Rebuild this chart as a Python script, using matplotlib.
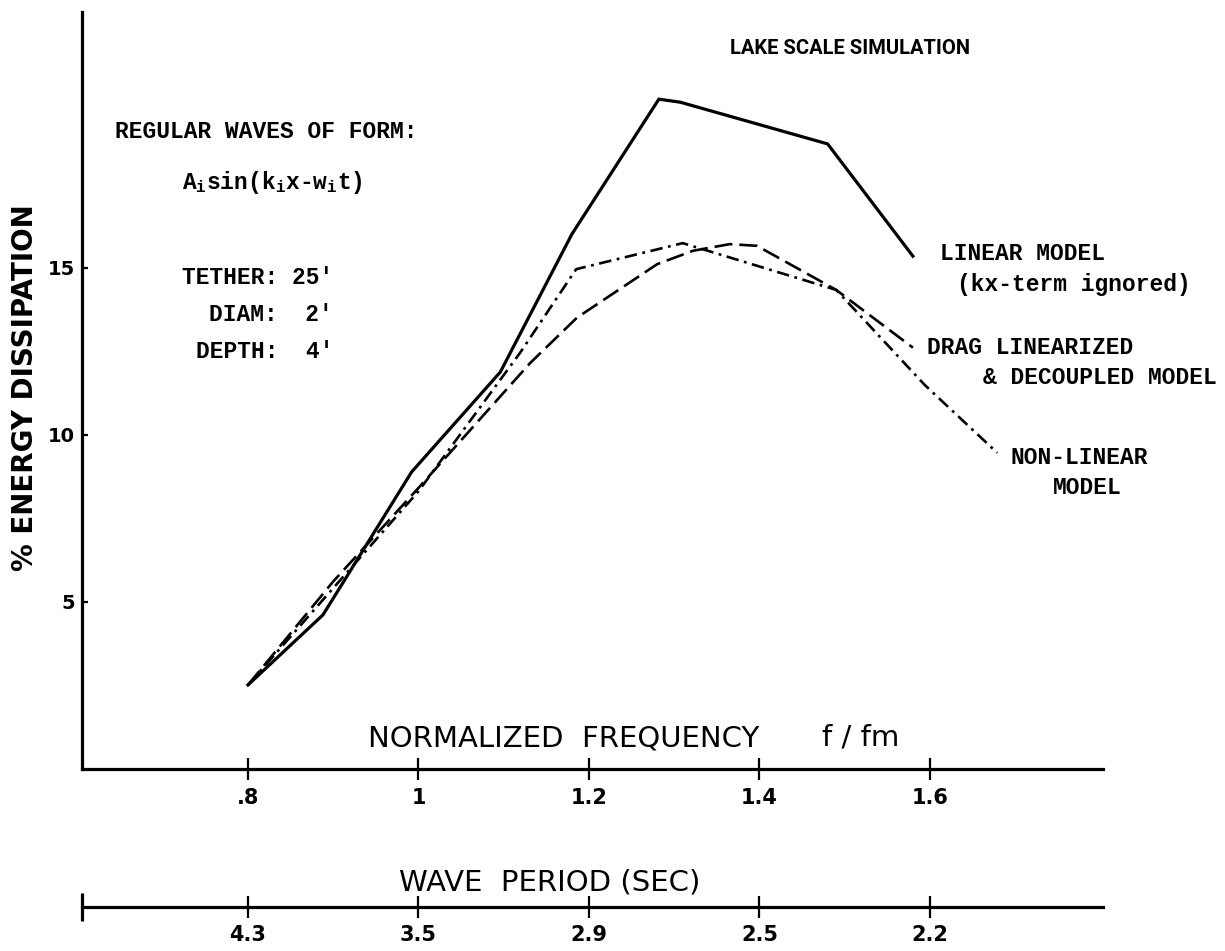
import matplotlib
matplotlib.use('Agg')
import matplotlib.pyplot as plt

plt.rcParams['lines.scale_dashes'] = False
plt.rcParams['mathtext.fontset'] = 'custom'
plt.rcParams['mathtext.rm'] = 'Liberation Mono:bold'
plt.rcParams['mathtext.it'] = 'Liberation Mono:bold'

# normalized frequency axis and the matching wave periods
freq_ticks = [0.8, 1.0, 1.2, 1.4, 1.6]
freq_labels = ['.8', '1', '1.2', '1.4', '1.6']
period_labels = ['4.3', '3.5', '2.9', '2.5', '2.2']
energy_ticks = [5, 10, 15]

# % energy dissipation for the three models
linear_f = [0.80, 0.888, 0.992, 1.096, 1.18, 1.282, 1.307, 1.48, 1.58]
linear_e = [2.5, 4.6, 8.88, 11.87, 16.0, 20.04, 19.95, 18.7, 15.34]

drag_f = [0.80, 0.90, 1.00, 1.131, 1.186, 1.28, 1.322, 1.365, 1.397, 1.49, 1.58]
drag_e = [2.5, 5.6, 8.4, 12.14, 13.5, 15.1, 15.5, 15.7, 15.65, 14.33, 12.6]

nonlin_f = [0.80, 0.90, 1.00, 1.119, 1.185, 1.31, 1.49, 1.594, 1.679]
nonlin_e = [2.5, 5.4, 8.3, 12.44, 14.95, 15.73, 14.33, 11.48, 9.45]

W, H = 1225, 951
fig = plt.figure(figsize=(W / 100, H / 100), dpi=100)
ax = fig.add_axes([82 / W, 1 - 768.5 / H, (1103 - 82) / W, 756.5 / H])

ax.plot(linear_f, linear_e, color='black', lw=2.3, solid_joinstyle='miter')
ax.plot(drag_f, drag_e, color='black', lw=1.9, dashes=(13, 5))
ax.plot(nonlin_f, nonlin_e, color='black', lw=1.9, dashes=(9, 4, 2, 4))

ax.set_xlim(0.6053, 1.803)
ax.set_ylim(0, 22.65)

for s in ['top', 'right']:
    ax.spines[s].set_visible(False)
for s in ['left', 'bottom']:
    ax.spines[s].set_linewidth(2.3)

ax.set_xticks(freq_ticks)
ax.set_xticklabels(freq_labels, fontsize=15, fontweight='bold')
ax.tick_params(axis='x', direction='inout', length=16, width=1.6, pad=6)
ax.set_yticks(energy_ticks)
ax.set_yticklabels([str(v) for v in energy_ticks], fontsize=14, fontweight='bold')
ax.tick_params(axis='y', direction='in', length=4, width=1.6, pad=5)

# wave period scale underneath
sec = ax.secondary_xaxis(-0.183)
sec.set_xticks(freq_ticks)
sec.set_xticklabels(period_labels, fontsize=15, fontweight='bold')
sec.tick_params(axis='x', direction='inout', length=16, width=1.6, pad=5)
sec.spines['bottom'].set_linewidth(2.3)
sec.set_xticks([0.6053], minor=True)
sec.tick_params(axis='x', which='minor', direction='inout', length=20, width=2.3)

def px(x, y):
    return x / W, 1 - y / H

sans = dict(family='DejaVu Sans', color='black')
mono = dict(family='Liberation Mono', fontweight='bold', fontsize=16.5, color='black')

fig.text(*px(25, 388), '% ENERGY DISSIPATION', rotation=90, fontsize=20,
         fontweight='bold', ha='center', va='center', **sans)
fig.text(*px(368, 738), 'NORMALIZED  FREQUENCY', fontsize=21, ha='left', va='center', **sans)
fig.text(*px(822, 738), 'f / fm', fontsize=21, ha='left', va='center', **sans)
fig.text(*px(399, 883), 'WAVE  PERIOD (SEC)', fontsize=21, ha='left', va='center', **sans)
fig.text(*px(850, 48), 'LAKE SCALE SIMULATION', fontsize=14.5, family='Roboto',
         fontweight='bold', ha='center', va='center', color='black')

fig.text(*px(115, 132), 'REGULAR WAVES OF FORM:', ha='left', va='center', **mono)
fig.text(*px(182, 182), 'A$_i$sin(k$_i$x-w$_i$t)', ha='left', va='center', **mono)
fig.text(*px(333, 277), "TETHER: 25'", ha='right', va='center', **mono)
fig.text(*px(333, 315), "DIAM:  2'", ha='right', va='center', **mono)
fig.text(*px(333, 352), "DEPTH:  4'", ha='right', va='center', **mono)

fig.text(*px(940, 253), 'LINEAR MODEL', ha='left', va='center', **mono)
fig.text(*px(957, 285), '(kx-term ignored)', ha='left', va='center', **mono)
fig.text(*px(927, 347), 'DRAG LINEARIZED', ha='left', va='center', **mono)
fig.text(*px(983, 377), '& DECOUPLED MODEL', ha='left', va='center', **mono)
fig.text(*px(1010, 457), 'NON-LINEAR', ha='left', va='center', **mono)
fig.text(*px(1053, 487), 'MODEL', ha='left', va='center', **mono)

fig.savefig('out.png', dpi=100)
